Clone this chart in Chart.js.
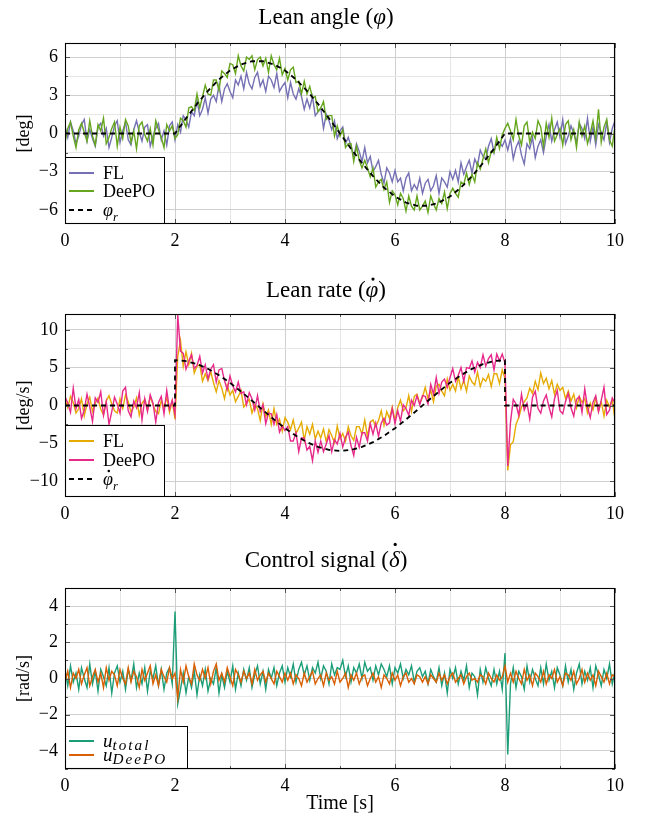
<!DOCTYPE html>
<html><head><meta charset="utf-8">
<script src="https://cdn.jsdelivr.net/npm/chart.js@4.4.1/dist/chart.umd.min.js"></script>
<style>
html,body{margin:0;padding:0;background:#fff;}
#wrap{position:relative;width:645px;height:819px;overflow:hidden;}
canvas{position:absolute;left:0;}
</style></head><body>
<div id="wrap">
<canvas id="c1" style="top:0px" width="645" height="250"></canvas>
<canvas id="c2" style="top:270px" width="645" height="250"></canvas>
<canvas id="c3" style="top:540px" width="645" height="279"></canvas>
</div>
<script>
// ---------------- data (sample time DT) ----------------
const DT = 0.05;
const xTicks = [0,1,2,3,4,5,6,7,8,9,10];
const xLabels = [0,2,4,6,8,10];

// Lean angle [deg]
const leanFL = [
0.6,-0.3,0.9,0.2,-0.8,-0.2,0.7,1.1,-0.6,0.3,-0.4,-1.0,0.5,0.8,-0.2,0.4,-1.1,-0.3,0.6,1.0,
-0.7,0.2,0.9,-0.5,-0.9,0.3,1.0,0.1,-0.6,0.5,0.7,-1.0,-0.2,0.4,0.8,-0.5,0.2,-0.9,0.6,0.9,-0.5,
0.7,0.1,1.4,1.1,0.5,1.7,1.4,2.6,1.4,1.9,
2.8,1.6,2.7,3.0,2.5,3.8,2.5,3.5,3.9,3.3,
2.8,4.2,3.8,4.5,3.5,4.8,3.9,3.5,4.4,4.8,
3.7,4.2,3.3,4.5,4.2,3.6,4.7,3.3,3.7,4.0,
2.8,4.0,3.1,2.7,3.5,2.9,1.9,2.7,2.0,2.9,
1.4,1.7,2.0,0.4,1.5,1.0,0.3,1.0,-0.4,0.2,
0.5,-0.8,-0.3,-1.0,-1.8,-0.8,-1.4,-2.2,-1.1,-2.3,
-1.8,-3.0,-2.6,-2.1,-3.2,-3.9,-2.7,-3.1,-3.8,-2.9,
-3.8,-3.5,-4.5,-3.5,-3.1,-4.5,-4.0,-4.4,-3.5,-4.7,
-3.9,-3.6,-4.5,-4.1,-3.3,-4.7,-3.5,-3.8,-4.2,-3.0,
-3.6,-2.9,-3.8,-2.3,-3.2,-2.6,-2.1,-3.1,-2.0,-2.5,
-1.3,-1.8,-2.0,-1.0,-0.4,-1.5,-0.6,-0.7,-1.0,-0.5,
-1.3,-0.4,-2.0,-1.1,-0.6,-1.7,-2.4,-0.8,-1.2,-0.3,-1.9,-1.0,-0.5,-1.5,-0.2,
0.7,-0.6,0.3,0.9,-0.3,1.1,-0.8,-0.2,0.6,0.0,-0.7,0.8,0.4,-0.4,1.2,-0.6,0.5,-0.9,0.7,0.1,-0.5,0.9,-0.7,0.4,1.0
];
const leanDeePO = [
-0.7,0.4,0.9,-0.2,-1.1,0.3,0.8,0.1,-0.6,1.0,-0.2,-0.9,0.7,0.2,1.2,-0.8,-0.3,0.4,0.9,-1.0,
0.5,-0.4,1.1,0.6,-0.7,0.2,-1.2,0.6,0.9,-0.1,-0.6,0.4,-0.9,1.0,0.3,-0.3,-1.1,0.7,0.2,0.6,-0.4,
-0.1,1.2,1.0,0.5,2.0,2.1,1.8,3.1,2.0,2.9,
3.8,3.1,3.0,4.2,4.2,3.4,4.9,4.7,4.4,5.5,
5.4,4.7,6.1,5.3,4.9,6.0,5.8,6.1,5.0,5.8,
6.0,5.3,5.9,4.8,6.1,5.4,5.0,5.9,4.6,5.1,
4.2,5.0,5.2,4.0,4.1,3.1,4.1,3.1,3.7,2.8,
2.9,1.7,2.0,2.5,1.1,1.4,1.4,-0.2,0.6,-0.2,
0.3,-1.1,-0.8,-0.8,-2.2,-1.0,-2.1,-2.7,-2.1,-2.7,
-3.4,-2.7,-4.2,-3.8,-3.6,-4.4,-3.8,-5.4,-4.5,-4.8,
-5.6,-4.7,-5.1,-6.1,-4.9,-5.7,-6.0,-4.9,-6.0,-5.7,
-5.3,-6.2,-4.9,-5.5,-6.0,-5.1,-5.5,-4.6,-5.9,-4.7,
-4.3,-4.7,-5.0,-3.8,-4.0,-3.1,-4.0,-3.2,-3.8,-2.3,
-2.8,-2.0,-1.2,-2.3,-1.4,-1.5,-0.3,-1.2,-0.1,0.4,
0.8,0.2,-0.5,1.1,-0.2,-0.9,0.6,0.9,-0.7,0.1,-0.4,1.0,0.5,-1.0,0.8,-0.3,1.2,-0.6,-0.1,0.4,
-0.9,0.7,1.0,-0.5,0.3,-1.1,0.9,-0.2,0.6,-0.8,0.0,1.0,-0.4,1.9,-0.7,0.5,1.1,-0.5,-1.0,0.6
];
const leanRefT = [0,2.0,2.2,2.4,2.6,2.8,3.0,3.2,3.4,3.6,3.8,4.0,4.2,4.4,4.6,4.8,5.0,5.2,5.4,5.6,5.8,6.0,6.2,6.4,6.6,6.8,7.0,7.2,7.4,7.6,7.8,8.0,10];
const leanRef = [0,0,1.19,2.32,3.35,4.24,4.94,5.42,5.67,5.67,5.42,4.94,4.24,3.35,2.32,1.19,0,-1.19,-2.32,-3.35,-4.24,-4.94,-5.42,-5.67,-5.67,-5.42,-4.94,-4.24,-3.35,-2.32,-1.19,0,0];

// Lean rate [deg/s]
const rateFL = [
0.8,-0.3,1.2,0.4,-1.0,-0.4,0.9,-1.4,0.2,1.1,-0.8,0.3,1.0,-0.5,-1.2,0.6,1.3,0.2,-0.7,-1.0,
0.9,-0.4,1.4,0.5,-0.9,-0.2,1.0,-1.3,0.3,0.8,-0.6,1.2,0.1,-0.8,-1.1,0.7,-0.3,1.1,-0.9,0.6,-1.8,
6.5,8.6,5.2,7.1,5.4,6.9,4.3,5.2,5.4,3.2,
4.2,3.3,4.5,3.0,1.8,3.3,2.3,0.9,2.7,1.4,
2.0,0.5,1.2,2.0,-0.2,0.3,0.8,-1.0,0.1,-0.4,
-2.0,0.2,-1.5,-0.6,-2.5,-0.4,-2.5,-1.8,-3.4,-1.6,
-2.2,-3.2,-1.9,-3.7,-3.0,-2.2,-4.6,-2.8,-3.8,-2.5,
-4.4,-3.4,-4.3,-3.1,-4.8,-3.2,-4.0,-4.9,-2.7,-4.4,
-3.7,-4.7,-2.8,-4.0,-4.6,-2.8,-2.8,-3.8,-1.9,-4.1,
-2.2,-1.9,-2.8,-2.0,-0.7,-2.6,-0.8,-1.7,-0.2,-2.0,
-0.3,0.7,-0.7,-0.3,1.3,-0.8,1.2,1.5,0.3,1.1,
2.4,0.9,2.0,0.5,2.6,2.8,1.9,1.3,3.5,2.0,
2.8,1.9,3.8,2.2,3.4,1.9,3.9,3.1,2.7,4.4,
2.5,3.6,3.2,4.1,2.5,4.2,4.2,2.9,4.7,3.6,
-8.6,-5.2,-4.8,-2.5,-1.6,-0.2,0.5,1.0,2.3,1.6,3.2,2.1,4.3,2.9,3.6,2.2,3.3,1.5,2.8,2.0,
2.4,0.9,1.9,0.6,1.5,-0.3,1.2,0.4,0.9,-1.0,0.3,-0.6,1.0,-0.8,0.5,-1.4,0.7,-0.2,0.8,-1.9
];
const rateDeePO = [
1.2,0.3,-0.9,2.3,-0.4,0.8,-1.7,-0.6,1.5,-0.2,-2.1,1.0,0.4,1.8,-1.3,0.5,-2.5,-0.8,1.1,0.2,
-1.0,1.9,2.4,-0.7,-1.5,0.6,-0.3,1.7,-1.9,0.9,-0.8,1.4,0.3,-2.2,0.4,1.2,-1.1,2.0,-0.5,0.7,-1.2,
12.0,7.2,6.9,4.8,5.9,6.7,4.9,5.3,6.5,4.3,
5.4,3.5,4.8,5.4,3.1,4.7,4.9,3.3,2.1,3.9,
2.6,1.8,3.1,1.6,1.8,0.1,1.7,0.9,-0.6,1.3,
-0.8,0.1,-2.4,-1.0,-1.1,-2.5,-1.2,-3.5,-2.7,-3.3,
-2.8,-4.7,-4.7,-3.6,-6.1,-4.3,-4.3,-5.9,-5.4,-7.3,
-4.7,-6.2,-4.7,-6.1,-5.1,-4.0,-6.1,-4.5,-5.1,-3.7,
-5.5,-4.2,-3.5,-5.3,-6.6,-4.2,-5.5,-3.6,-3.6,-4.7,
-2.4,-3.8,-2.3,-4.1,-2.3,-1.7,-2.6,-2.3,-0.4,-2.4,
-0.7,-2.1,0.1,-0.4,-1.3,0.7,0.0,1.3,0.1,1.3,
1.2,0.2,2.8,1.5,3.7,1.6,3.1,3.5,2.4,3.7,
4.9,3.2,4.0,5.0,3.2,5.0,4.9,5.9,4.4,5.7,
5.0,6.7,5.2,6.2,6.7,4.7,6.8,5.9,6.8,5.6,
-8.0,-2.2,0.8,0.2,-1.3,1.5,-0.6,0.3,-1.8,1.1,1.9,-0.4,-1.0,0.6,1.4,-0.2,-1.5,0.9,2.0,-0.7,
-1.1,0.5,1.6,-0.3,-1.4,0.8,1.2,-0.9,2.2,-0.2,-1.6,0.4,1.3,-0.8,0.7,2.4,-1.2,-0.6,1.0,0.3
];
const rateRefT = [0,2.0,2.0,2.2,2.4,2.6,2.8,3.0,3.2,3.4,3.6,3.8,4.0,4.2,4.4,4.6,4.8,5.0,5.2,5.4,5.6,5.8,6.0,6.2,6.4,6.6,6.8,7.0,7.2,7.4,7.6,7.8,8.0,8.0,10];
const rateRef = [0,0,6,5.87,5.48,4.85,4.01,3.0,1.85,0.63,-0.63,-1.85,-3.0,-4.01,-4.85,-5.48,-5.87,-6,-5.87,-5.48,-4.85,-4.01,-3.0,-1.85,-0.63,0.63,1.85,3.0,4.01,4.85,5.48,5.87,6,0,0];

// Control signal [rad/s]
const uTotal = [
0.5,-0.4,0.7,-0.2,0.3,-0.6,0.6,0.0,-0.5,0.8,-0.3,0.4,-0.7,0.5,0.1,-0.4,0.6,-0.8,0.3,0.7,
-0.2,0.4,-0.6,0.5,-0.1,0.8,-0.5,0.3,-0.3,0.6,-0.7,0.4,0.0,0.7,-0.4,0.5,-0.6,0.3,0.6,-0.3,
3.7,-1.4,
-0.6,0.3,-0.8,0.1,-0.5,0.4,-0.9,0.2,-0.4,0.5,-0.7,0.0,-0.3,0.6,-0.8,0.2,-0.5,0.4,-0.2,0.7,
-0.6,0.3,-0.4,0.5,-0.1,0.6,-0.5,0.2,0.7,-0.3,0.4,-0.6,0.5,0.0,0.6,-0.4,0.3,0.7,-0.2,
0.6,0.1,0.8,-0.2,0.5,0.9,0.2,0.7,-0.1,0.6,0.3,0.9,0.0,0.7,0.4,-0.3,0.8,0.2,0.6,0.5,
1.0,0.1,0.7,-0.2,0.6,0.3,0.8,0.0,0.9,0.4,0.6,-0.1,0.7,0.2,0.8,0.5,0.1,0.7,-0.3,0.6,
0.3,0.8,0.0,0.5,0.2,0.7,-0.2,0.4,0.6,0.1,
0.4,-0.3,0.5,0.1,-0.2,0.6,-0.4,0.3,-0.8,0.5,0.0,0.6,-0.3,0.4,-0.1,0.7,-0.5,0.3,0.1,-0.9,
0.5,-0.2,0.6,0.0,-0.4,0.5,-0.3,0.4,-0.6,
1.4,-4.2,
-0.3,0.6,-0.5,0.4,0.1,-0.6,0.7,-0.2,0.5,0.0,-0.4,0.6,-0.3,0.8,-0.1,0.4,-0.5,0.6,0.2,-0.4,
0.7,-0.2,0.5,-0.6,0.3,0.8,-0.3,0.4,-0.1,0.6,-0.5,0.7,0.2,-0.4,0.5,0.0,0.8,-0.3,0.4
];
const uDeePO = [
-0.2,0.4,-0.5,0.3,0.0,0.5,-0.3,0.2,0.6,-0.4,0.1,0.5,-0.2,0.3,-0.5,0.6,-0.1,0.4,0.2,-0.4,
0.5,0.0,-0.3,0.6,-0.2,0.4,0.1,-0.5,0.5,-0.1,0.3,0.7,-0.3,0.2,-0.4,0.5,0.1,-0.2,0.6,0.0,
0.3,-1.1,
0.5,-0.2,0.7,0.1,-0.3,0.8,0.2,-0.1,0.5,0.0,0.6,-0.3,0.4,0.8,-0.1,0.3,-0.2,0.6,0.1,-0.4,
0.5,0.2,-0.2,0.4,0.0,0.3,-0.3,0.5,-0.1,0.2,0.4,-0.2,0.3,0.0,-0.3,0.4,0.1,-0.2,0.3,
-0.1,0.3,-0.3,0.2,0.0,-0.4,0.3,-0.2,0.1,0.4,-0.3,0.0,0.2,-0.4,0.3,-0.1,0.1,-0.3,0.4,-0.2,
0.0,0.3,-0.5,0.2,-0.1,0.3,-0.3,0.1,0.2,-0.4,0.0,0.3,-0.2,0.1,-0.5,0.2,0.0,-0.3,0.3,-0.1,
0.2,-0.4,0.1,0.3,-0.2,0.0,-0.3,0.2,0.1,-0.2,
0.1,-0.3,0.2,0.0,-0.2,0.3,-0.1,0.2,-0.3,0.1,0.3,-0.2,0.0,0.2,-0.3,0.1,0.3,-0.1,0.0,-0.2,
0.2,0.1,-0.3,0.3,0.0,-0.2,0.2,-0.1,0.1,
0.7,-0.2,
0.3,-0.2,0.4,0.0,-0.3,0.5,-0.1,0.2,-0.4,0.3,0.1,-0.2,0.4,-0.3,0.2,0.0,0.5,-0.2,0.1,-0.4,
0.3,0.2,-0.1,0.4,-0.3,0.0,0.5,-0.2,0.3,-0.1,0.2,-0.4,0.4,0.1,-0.2,0.3,-0.3,0.2,0.1
];

const yTicksLean = [-6,-4.5,-3,-1.5,0,1.5,3,4.5,6];
const yLabelsLean = [-6,-3,0,3,6];
const yTicksRate = [-10,-7.5,-5,-2.5,0,2.5,5,7.5,10];
const yLabelsRate = [-10,-5,0,5,10];
const yTicksU = [-5,-4,-3,-2,-1,0,1,2,3,4,5];
const yLabelsU = [-4,-2,0,2,4];

// ---------------- helpers ----------------
const SERIF = '"Liberation Serif","Times New Roman",serif';
const fnt = (s, it) => (it ? 'italic ' : '') + s + 'px ' + SERIF;
const fmt = v => (v < 0 ? '\u2212' + Math.abs(v) : String(v));
const series = (arr) => arr.map((v, i) => ({x: +(i * DT).toFixed(2), y: v}));
const pairs = (ts, vs) => ts.map((t, i) => ({x: t, y: vs[i]}));

function drawRich(ctx, parts, x, y, align, base) {
  let w = 0;
  parts.forEach(p => {
    const s = (p.sub ? (p.subScale || 0.7) : 1) * base;
    ctx.font = fnt(s, p.it);
    ctx.letterSpacing = p.ls || '0px';
    p._s = s;
    p._w = ctx.measureText(p.t).width;
    w += p._w;
  });
  let cx = align === 'center' ? x - w / 2 : x;
  ctx.textAlign = 'left'; ctx.textBaseline = 'alphabetic'; ctx.fillStyle = '#000';
  parts.forEach(p => {
    ctx.font = fnt(p._s, p.it);
    ctx.letterSpacing = p.ls || '0px';
    const yy = y + (p.sub ? base * (p.subDy || 0.28) : 0);
    ctx.fillText(p.t, cx, yy);
    if (p.dot) {
      ctx.beginPath();
      ctx.arc(cx + p._w * 0.58, yy - base * (p.dotH || 0.72), base * 0.07, 0, Math.PI * 2);
      ctx.fill();
    }
    cx += p._w;
  });
  ctx.letterSpacing = '0px';
}

function decorPlugin(cfg) {
  return {
    id: 'decor',
    afterDatasetsDraw(chart) {
      const ctx = chart.ctx, a = chart.chartArea;
      const xs = chart.scales.x, ys = chart.scales.y;
      ctx.save();
      ctx.strokeStyle = '#555'; ctx.lineWidth = 1;
      cfg.xTicks.forEach(v => {
        const px = Math.round(xs.getPixelForValue(v)) + 0.5;
        const L = cfg.xLabels.includes(v) ? 5 : 3;
        ctx.beginPath();
        ctx.moveTo(px, a.bottom); ctx.lineTo(px, a.bottom - L);
        ctx.moveTo(px, a.top); ctx.lineTo(px, a.top + L);
        ctx.stroke();
      });
      cfg.yTicks.forEach(v => {
        const py = Math.round(ys.getPixelForValue(v)) + 0.5;
        const L = cfg.yLabels.includes(v) ? 5 : 3;
        ctx.beginPath();
        ctx.moveTo(a.left, py); ctx.lineTo(a.left + L, py);
        ctx.moveTo(a.right, py); ctx.lineTo(a.right - L, py);
        ctx.stroke();
      });
      const lg = cfg.legend;
      ctx.fillStyle = '#fff';
      ctx.fillRect(a.left, lg.top, lg.right - a.left, a.bottom - lg.top);
      ctx.strokeStyle = '#000'; ctx.lineWidth = 1;
      ctx.strokeRect(a.left + 0.5, lg.top + 0.5, lg.right - a.left - 1, a.bottom - lg.top - 1);
      lg.items.forEach((it, k) => {
        const ds = chart.data.datasets[it.ds];
        const cy = lg.rows[k];
        ctx.beginPath();
        ctx.strokeStyle = ds.borderColor;
        ctx.lineWidth = it.dash ? 1.8 : 2;
        ctx.setLineDash(it.dash ? [5, 4] : []);
        ctx.moveTo(a.left + 4, cy); ctx.lineTo(a.left + 29, cy);
        ctx.stroke();
        ctx.setLineDash([]);
        drawRich(ctx, it.label, a.left + 38, cy + 6, 'left', lg.size);
      });
      ctx.strokeStyle = '#000'; ctx.lineWidth = 1.1;
      ctx.strokeRect(a.left + 0.5, a.top + 0.5, a.right - a.left - 1, a.bottom - a.top - 1);
      ctx.restore();
    },
    afterDraw(chart) {
      const ctx = chart.ctx, a = chart.chartArea;
      ctx.save();
      drawRich(ctx, cfg.title, 326, cfg.titleY, 'center', 23);
      ctx.translate(24, (a.top + a.bottom) / 2);
      ctx.rotate(-Math.PI / 2);
      ctx.font = fnt(18); ctx.fillStyle = '#000';
      ctx.textAlign = 'center'; ctx.textBaseline = 'middle';
      ctx.fillText(cfg.yTitle, 0, 0);
      ctx.restore();
      if (cfg.xTitle) {
        ctx.save();
        ctx.font = fnt(20); ctx.fillStyle = '#000';
        ctx.textAlign = 'center'; ctx.textBaseline = 'alphabetic';
        ctx.fillText(cfg.xTitle, (a.left + a.right) / 2, cfg.xTitleY);
        ctx.restore();
      }
    }
  };
}

function makeChart(id, cfg) {
  const canvas = document.getElementById(id);
  const H = canvas.height;
  const gridCol = (major) => major ? '#cfcfcf' : '#e6e6e6';
  return new Chart(canvas, {
    type: 'line',
    data: {datasets: cfg.datasets},
    options: {
      responsive: false, animation: false, devicePixelRatio: 1,
      layout: {padding: {top: cfg.top, right: 30, left: 0, bottom: 0}},
      plugins: {legend: {display: false}, title: {display: false}, tooltip: {enabled: false}},
      elements: {point: {radius: 0}, line: {tension: 0}},
      scales: {
        x: {
          type: 'linear', min: 0, max: 10,
          afterBuildTicks: s => { s.ticks = cfg.xTicks.map(v => ({value: v})); },
          afterFit: s => { s.height = H - cfg.bottom; },
          grid: {color: c => gridCol(c.tick && cfg.xLabels.includes(c.tick.value)), drawTicks: false, lineWidth: 1},
          border: {display: false},
          ticks: {padding: 6, autoSkip: false, maxRotation: 0, color: '#000', font: {family: SERIF, size: 18},
                  callback: v => cfg.xLabels.includes(v) ? fmt(v) : ''}
        },
        y: {
          type: 'linear', min: cfg.ymin, max: cfg.ymax,
          afterBuildTicks: s => { s.ticks = cfg.yTicks.map(v => ({value: v})); },
          afterFit: s => { s.width = 65; },
          grid: {color: c => gridCol(c.tick && cfg.yLabels.includes(c.tick.value)), drawTicks: false, lineWidth: 1},
          border: {display: false},
          ticks: {padding: 7, autoSkip: false, color: '#000', font: {family: SERIF, size: 18},
                  callback: v => cfg.yLabels.includes(v) ? fmt(v) : ''}
        }
      }
    },
    plugins: [decorPlugin(cfg)]
  });
}

const noisy = (data, color, order) => ({data, borderColor: color, borderWidth: 1.4, order, pointRadius: 0});
const refLine = (data) => ({data, borderColor: '#000', borderWidth: 1.8, borderDash: [5, 4], order: 0, pointRadius: 0});

makeChart('c1', {
  top: 43, bottom: 224, ymin: -7.1, ymax: 7.1,
  xTicks, xLabels, yTicks: yTicksLean, yLabels: yLabelsLean,
  title: [{t: 'Lean angle ('}, {t: 'φ', it: true}, {t: ')'}], titleY: 24,
  yTitle: '[deg]',
  datasets: [
    noisy(series(leanFL), '#7570b3', 2),
    noisy(series(leanDeePO), '#66a61e', 1),
    refLine(pairs(leanRefT, leanRef))
  ],
  legend: {top: 157, right: 165, size: 18, rows: [173, 191, 210], items: [
    {ds: 0, label: [{t: 'FL'}]},
    {ds: 1, label: [{t: 'DeePO'}]},
    {ds: 2, dash: true, label: [{t: 'φ', it: true}, {t: 'r', it: true, sub: true}]}
  ]}
});

makeChart('c2', {
  top: 44, bottom: 227, ymin: -12.1, ymax: 12.1,
  xTicks, xLabels, yTicks: yTicksRate, yLabels: yLabelsRate,
  title: [{t: 'Lean rate ('}, {t: 'φ', it: true, dot: true, dotH: 0.78}, {t: ')'}], titleY: 27,
  yTitle: '[deg/s]',
  datasets: [
    noisy(series(rateFL), '#e6ab02', 2),
    noisy(series(rateDeePO), '#e7298a', 1),
    refLine(pairs(rateRefT, rateRef))
  ],
  legend: {top: 155, right: 165, size: 18, rows: [171, 190, 209], items: [
    {ds: 0, label: [{t: 'FL'}]},
    {ds: 1, label: [{t: 'DeePO'}]},
    {ds: 2, dash: true, label: [{t: 'φ', it: true, dot: true, dotH: 0.78}, {t: 'r', it: true, sub: true}]}
  ]}
});

makeChart('c3', {
  top: 48, bottom: 229, ymin: -5, ymax: 5,
  xTicks, xLabels, yTicks: yTicksU, yLabels: yLabelsU,
  title: [{t: 'Control signal ('}, {t: 'δ', it: true, dot: true, dotH: 0.98}, {t: ')'}], titleY: 27,
  yTitle: '[rad/s]', xTitle: 'Time [s]', xTitleY: 269,
  datasets: [
    noisy(series(uTotal), '#1b9e77', 2),
    noisy(series(uDeePO), '#d95f02', 1)
  ],
  legend: {top: 186, right: 188, size: 19, rows: [201, 215], items: [
    {ds: 0, label: [{t: 'u', it: true}, {t: 'total', it: true, sub: true, subScale: 0.8, subDy: 0.18, ls: '2px'}]},
    {ds: 1, label: [{t: 'u', it: true}, {t: 'DeePO', it: true, sub: true, subScale: 0.8, subDy: 0.18, ls: '2px'}]}
  ]}
});
</script>
</body></html>
